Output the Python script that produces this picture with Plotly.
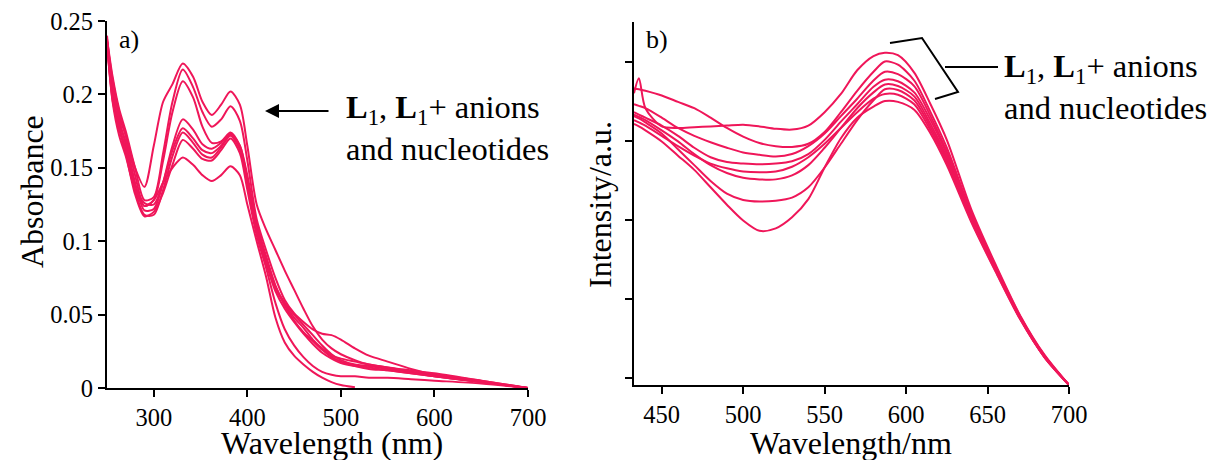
import plotly.graph_objects as go

# ---------------- data: panel a) absorbance ----------------
wl_abs = [250, 256, 263, 270, 280, 290, 300, 310, 320, 331, 342, 352, 362, 372, 382, 392,
          400, 410, 420, 430, 440, 450, 460, 470, 480, 490, 500, 515, 530, 550, 575, 600, 650, 700]

abs_1 = [0.240, 0.205, 0.185, 0.172, 0.150, 0.137, 0.165, 0.195, 0.207, 0.221, 0.212, 0.195, 0.186, 0.193, 0.202, 0.193,
         0.165, 0.125, 0.108, 0.094, 0.080, 0.067, 0.054, 0.042, 0.033, 0.027, 0.023, 0.019, 0.016, 0.014, 0.011, 0.008, 0.004, 0.0]
abs_2 = [0.238, 0.212, 0.190, 0.175, 0.150, 0.128, 0.130, 0.160, 0.195, 0.217, 0.205, 0.188, 0.178, 0.183, 0.192, 0.182,
         0.155, 0.115, 0.094, 0.075, 0.060, 0.051, 0.045, 0.040, 0.037, 0.036, 0.033, 0.027, 0.022, 0.018, 0.013, 0.009, 0.004, 0.0]
abs_3 = [0.237, 0.210, 0.188, 0.172, 0.145, 0.124, 0.128, 0.155, 0.188, 0.209, 0.198, 0.178, 0.167, 0.168, 0.174, 0.165,
         0.145, 0.112, 0.090, 0.070, 0.056, 0.046, 0.038, 0.032, 0.026, 0.021, 0.018, 0.015, 0.013, 0.012, 0.010, 0.008, 0.004, 0.0]
abs_4 = [0.236, 0.200, 0.180, 0.168, 0.140, 0.121, 0.122, 0.140, 0.165, 0.183, 0.176, 0.166, 0.163, 0.167, 0.173, 0.165,
         0.142, 0.110, 0.088, 0.069, 0.058, 0.050, 0.043, 0.036, 0.029, 0.023, 0.019, 0.016, 0.015, 0.013, 0.011, 0.009, 0.005, 0.0]
abs_5 = [0.236, 0.205, 0.183, 0.166, 0.138, 0.126, 0.125, 0.140, 0.162, 0.177, 0.170, 0.162, 0.160, 0.165, 0.172, 0.163,
         0.140, 0.108, 0.085, 0.066, 0.054, 0.045, 0.037, 0.030, 0.024, 0.020, 0.017, 0.015, 0.014, 0.012, 0.010, 0.008, 0.004, 0.0]
abs_6 = [0.236, 0.198, 0.178, 0.163, 0.135, 0.118, 0.118, 0.135, 0.158, 0.174, 0.167, 0.159, 0.157, 0.164, 0.172, 0.163,
         0.138, 0.107, 0.086, 0.068, 0.057, 0.048, 0.041, 0.033, 0.027, 0.022, 0.020, 0.018, 0.016, 0.014, 0.012, 0.010, 0.005, 0.0]
abs_7 = [0.236, 0.196, 0.176, 0.160, 0.132, 0.117, 0.120, 0.133, 0.152, 0.169, 0.163, 0.156, 0.155, 0.162, 0.170, 0.160,
         0.135, 0.104, 0.082, 0.058, 0.040, 0.029, 0.021, 0.015, 0.011, 0.009, 0.008, 0.008, 0.007, 0.007, 0.006, 0.005, 0.003, 0.0]
abs_8 = [0.235, 0.195, 0.172, 0.158, 0.135, 0.124, 0.128, 0.140, 0.150, 0.157, 0.152, 0.145, 0.141, 0.145, 0.151, 0.145,
         0.125, 0.100, 0.076, 0.048, 0.031, 0.022, 0.016, 0.011, 0.007, 0.004, 0.002, 0.0005, None, None, None, None, None, None]

abs_series = [abs_1, abs_2, abs_3, abs_4, abs_5, abs_6, abs_7, abs_8]

abs_xticks = [300, 400, 500, 600, 700]
abs_yticks = [0, 0.05, 0.1, 0.15, 0.2, 0.25]
abs_yticklabels = ["0", "0.05", "0.1", "0.15", "0.2", "0.25"]

# ---------------- data: panel b) emission ----------------
wl_em = [433, 436, 440, 450, 460, 470, 480, 490, 500, 510, 520, 530, 540, 550, 560, 570,
         580, 587, 595, 605, 615, 625, 640, 655, 670, 685, 700]

em_1 = [3.69, 3.88, 3.50, 3.27, 3.25, 3.26, 3.27, 3.28, 3.29, 3.27, 3.24, 3.23, 3.28, 3.45, 3.68, 3.98,
        4.16, 4.20, 4.17, 3.95, 3.55, 3.10, 2.22, 1.52, 0.88, 0.38, 0.0]
em_2 = [3.75, 3.74, 3.72, 3.66, 3.58, 3.50, 3.38, 3.25, 3.14, 3.06, 3.02, 3.01, 3.05, 3.20, 3.45, 3.72,
        3.96, 4.09, 4.05, 3.85, 3.45, 3.00, 2.18, 1.50, 0.87, 0.37, 0.0]
em_3 = [3.55, 3.53, 3.50, 3.38, 3.25, 3.15, 3.07, 3.00, 2.94, 2.91, 2.89, 2.92, 3.02, 3.18, 3.40, 3.62,
        3.85, 3.96, 3.93, 3.78, 3.40, 2.95, 2.16, 1.48, 0.86, 0.37, 0.0]
em_4 = [3.45, 3.42, 3.38, 3.28, 3.15, 3.00, 2.88, 2.82, 2.80, 2.79, 2.80, 2.83, 2.92, 3.10, 3.33, 3.55,
        3.77, 3.86, 3.84, 3.70, 3.35, 2.92, 2.14, 1.47, 0.85, 0.36, 0.0]
em_5 = [3.42, 3.39, 3.35, 3.22, 3.08, 2.92, 2.78, 2.68, 2.62, 2.60, 2.60, 2.65, 2.78, 3.00, 3.25, 3.50,
        3.70, 3.80, 3.78, 3.65, 3.30, 2.88, 2.12, 1.46, 0.85, 0.36, 0.0]
em_6 = [3.40, 3.37, 3.32, 3.18, 2.98, 2.78, 2.58, 2.42, 2.34, 2.32, 2.33, 2.37, 2.50, 2.75, 3.05, 3.35,
        3.60, 3.74, 3.73, 3.60, 3.26, 2.85, 2.10, 1.45, 0.84, 0.35, 0.0]
em_7 = [3.35, 3.32, 3.28, 3.15, 3.02, 2.90, 2.80, 2.74, 2.70, 2.69, 2.70, 2.76, 2.88, 3.05, 3.25, 3.45,
        3.62, 3.68, 3.67, 3.55, 3.22, 2.82, 2.08, 1.44, 0.84, 0.35, 0.0]
em_8 = [3.30, 3.27, 3.22, 3.08, 2.90, 2.72, 2.50, 2.28, 2.08, 1.95, 1.98, 2.12, 2.35, 2.75, 3.12, 3.38,
        3.52, 3.59, 3.58, 3.48, 3.18, 2.78, 2.06, 1.43, 0.83, 0.35, 0.0]

em_series = [em_1, em_2, em_3, em_4, em_5, em_6, em_7, em_8]

em_xticks = [450, 500, 550, 600, 650, 700]
em_yticks = [0.09, 1.09, 2.09, 3.09, 4.09]

# ---------------- figure ----------------
W, H = 1214, 460
LINE = "#EF1659"
FONT = "Liberation Serif, Times New Roman, Times, serif"


def px(x):
    return x / W


def py(y):
    return 1 - y / H


fig = go.Figure()

for s in abs_series:
    fig.add_trace(go.Scatter(x=wl_abs, y=s, mode="lines", xaxis="x", yaxis="y",
                             line=dict(color=LINE, width=2, shape="spline", smoothing=0.8),
                             connectgaps=False, showlegend=False, hoverinfo="skip"))

for s in em_series:
    fig.add_trace(go.Scatter(x=wl_em, y=s, mode="lines", xaxis="x2", yaxis="y2",
                             line=dict(color=LINE, width=2, shape="spline", smoothing=0.8),
                             showlegend=False, hoverinfo="skip"))

tick_font = dict(family=FONT, size=24.5, color="black")
axis_common = dict(showline=True, linecolor="black", linewidth=2, ticks="outside",
                   ticklen=7, tickwidth=2, tickcolor="black", showgrid=False, zeroline=False,
                   mirror=False, automargin=False, tickfont=tick_font)

fig.update_layout(
    width=W, height=H, autosize=False,
    font=dict(family=FONT, size=24, color="black"),
    margin=dict(l=0, r=0, t=0, b=0, pad=0, autoexpand=False),
    paper_bgcolor="white", plot_bgcolor="white",
    xaxis=dict(domain=[px(107), px(528)], range=[250, 700], tickvals=abs_xticks,
               anchor="y", **axis_common),
    yaxis=dict(domain=[py(388), py(21)], range=[0, 0.25], tickvals=abs_yticks,
               ticktext=abs_yticklabels, anchor="x", **axis_common),
    xaxis2=dict(domain=[px(634), px(1069)], range=[433, 700], tickvals=em_xticks,
                anchor="y2", **axis_common),
    yaxis2=dict(domain=[py(385), py(22)], range=[0, 4.59], tickvals=em_yticks,
                showticklabels=False, anchor="x2", **axis_common),
)

title_font = dict(family=FONT, size=32, color="black")
label_font = dict(family=FONT, size=32.5, color="black")

annotations = [
    dict(text="Wavelength (nm)", x=px(332), y=py(443), xref="paper", yref="paper",
         showarrow=False, font=title_font, xanchor="center", yanchor="middle"),
    dict(text="Absorbance", x=px(32), y=py(192), xref="paper", yref="paper", textangle=-90,
         showarrow=False, font=title_font, xanchor="center", yanchor="middle"),
    dict(text="Wavelength/nm", x=px(851), y=py(443), xref="paper", yref="paper",
         showarrow=False, font=title_font, xanchor="center", yanchor="middle"),
    dict(text="Intensity/a.u.", x=px(600), y=py(205), xref="paper", yref="paper", textangle=-90,
         showarrow=False, font=title_font, xanchor="center", yanchor="middle"),
    dict(text="a)", x=px(117), y=py(40), xref="paper", yref="paper",
         showarrow=False, font=dict(family=FONT, size=26, color="black"),
         xanchor="left", yanchor="middle"),
    dict(text="b)", x=px(644), y=py(40), xref="paper", yref="paper",
         showarrow=False, font=dict(family=FONT, size=26, color="black"),
         xanchor="left", yanchor="middle"),
    dict(text="<b>L</b><sub>1</sub>, <b>L</b><sub>1</sub>+ anions<br>and nucleotides",
         x=px(344), y=py(128), xref="paper", yref="paper", align="left",
         showarrow=False, font=label_font, xanchor="left", yanchor="middle"),
    dict(text="<b>L</b><sub>1</sub>, <b>L</b><sub>1</sub>+ anions<br>and nucleotides",
         x=px(1002), y=py(87), xref="paper", yref="paper", align="left",
         showarrow=False, font=label_font, xanchor="left", yanchor="middle"),
    dict(text="", x=px(265), y=py(111), xref="paper", yref="paper",
         ax=65, ay=0, axref="pixel", ayref="pixel", showarrow=True,
         arrowhead=2, arrowsize=1.4, arrowwidth=2, arrowcolor="black"),
]
fig.update_layout(annotations=annotations)

bracket = "M {} {} L {} {} L {} {} L {} {}".format(
    px(890), py(43), px(922), py(38), px(958), py(92), px(935), py(99))
fig.add_shape(type="path", path=bracket, xref="paper", yref="paper",
              line=dict(color="black", width=2))
fig.add_shape(type="line", x0=px(945), y0=py(67), x1=px(998), y1=py(67),
              xref="paper", yref="paper", line=dict(color="black", width=2))

fig.write_html(
    "out.html",
    config={"responsive": False, "displayModeBar": False},
    post_script="document.body.style.margin='0';document.body.style.overflow='hidden';",
)
